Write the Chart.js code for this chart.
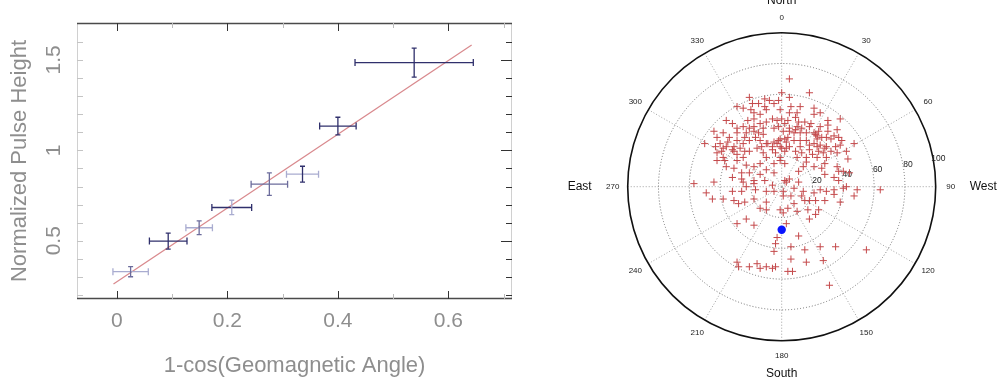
<!DOCTYPE html>
<html>
<head>
<meta charset="utf-8">
<script src="https://cdn.jsdelivr.net/npm/chart.js@4.4.1/dist/chart.umd.min.js"></script>
<style>
html, body { margin: 0; padding: 0; background: #fff; }
body { width: 998px; height: 383px; position: relative; overflow: hidden; }
#pulse { position: absolute; left: 0; top: 0; }
#sky { position: absolute; left: 556px; top: 0; }
</style>
</head>
<body>
<canvas id="pulse" width="540" height="383"></canvas>
<canvas id="sky" width="442" height="383"></canvas>
<script>
// ---- left panel: pulse height vs 1-cos(geomagnetic angle)
const geoX      = [0.025, 0.093, 0.149, 0.208, 0.276, 0.336, 0.400, 0.538];
const geoXErr   = [0.032, 0.034, 0.024, 0.036, 0.033, 0.029, 0.033, 0.107];
const pulseY    = [0.329, 0.498, 0.572, 0.684, 0.813, 0.868, 1.134, 1.485];
const pulseYErr = [0.028, 0.044, 0.038, 0.040, 0.062, 0.044, 0.049, 0.080];
const fitSlope = 2.04;
const fitIntercept = 0.273;
const fitX = [-0.006, 0.642];
const xTicks = [0, 0.2, 0.4, 0.6];
const yTicks = [0.5, 1, 1.5];

// ---- right panel: sky map (zenith angle projected toward West / North, degrees)
const westComp = [
  5,0,18,5,-21,-11,-2,-8,-29,-20,-15,-5,6,12,21,5,25,-18,-14,-10,
  -1,0,-6,4,9,15,19,30,38,30,36,25,-22,-25,-29,-32,-36,-44,-38,-42,
  -34,-29,-23,-18,-12,-5,-2,1,5,10,13,18,22,24,29,32,37,47,38,42,
  43,36,29,25,21,16,12,8,3,-1,-5,-10,-14,-17,-21,-25,-29,-35,-40,-50,
  -43,-42,-38,-32,-29,-37,-25,-21,-16,-12,-6,-1,3,9,12,18,23,29,36,37,
  40,34,28,26,21,16,11,11,5,3,-1,-5,-10,-14,-18,-23,-26,-32,-31,-36,
  -42,-25,-18,-14,-10,-5,-32,-26,-23,-17,-10,-6,1,8,14,21,25,29,34,40,
  42,49,47,38,34,28,22,18,13,6,1,-1,1,4,10,18,22,24,17,8,
  -10,-14,-18,-31,-38,-45,-49,-57,-44,-5,3,-10,-18,-29,-23,-3,11,6,-4,15,
  25,35,55,-5,6,16,27,-29,-28,-21,-16,-14,-10,-6,-4,4,7,31,64,2,
  -9,-6,-3,-2,0,2,4,5,8,9,12,16,21,23,23,26,34,30,-12,-13,
  -15,-18,-21,-24,-27,-31,-36,-39,-38,-29,-31,-24,-4,-1,2,10,13,16,20,24,
  27,32,35,39,5,2,-3,-10,-14,-18,-11,-19,-25,10,21,11,18,23,28,2,
  14,28,37,44,15,-26,-28,-24,-18,-21,-11
];
const northComp = [
  70,61,61,58,58,57,56,56,52,50,54,54,52,52,51,48,48,44,47,50,
  50,44,44,43,45,42,41,43,44,40,37,39,43,39,38,41,43,36,35,32,
  32,35,35,36,38,38,39,36,36,39,38,39,34,36,32,31,32,28,27,23,
  18,22,26,27,28,30,30,30,29,31,29,28,30,32,30,28,30,29,28,28,
  26,22,25,24,21,17,19,23,25,22,24,26,25,23,26,24,19,19,13,10,
  10,6,8,12,13,16,10,3,5,3,17,15,19,15,13,14,9,6,12,13,
  17,3,4,8,11,9,-3,-3,0,-2,-3,1,-3,-1,-3,-4,-2,-3,-2,-1,
  0,-2,-6,-10,-5,-9,-9,-9,-6,-6,-6,-15,-17,-14,-16,-21,-18,-15,-15,-11,
  -10,-14,-8,-9,-8,-8,-4,2,3,-3,-24,-15,-25,-24,-21,-33,-32,-39,-37,-41,
  -39,-39,-41,-42,-47,-49,-48,-49,-52,-52,-50,-53,-52,-53,-52,-55,-55,-64,-2,4,
  28,26,28,30,25,31,32,26,35,37,35,35,35,33,31,32,33,36,34,26,
  35,39,38,32,25,26,26,23,19,17,23,23,22,19,23,19,22,19,21,23,
  22,23,26,30,38,41,43,42,41,48,52,54,51,48,47,42,27,26,25,15,
  13,15,4,9,-9,5,-11,-10,2,9,4
];
const markerWest = [0];
const markerNorth = [-28];
const azTicks = [0, 30, 60, 90, 120, 150, 180, 210, 240, 270, 300, 330];
const ringTicks = [20, 40, 60, 80, 100];
const compass = ['North', 'West', 'South', 'East'];

const FONT = "'Liberation Sans', Arial, sans-serif";
const GREY = '#8e8e8e';

// bar shades (the source figure has lighter and darker bars)
const DARK = '#30306c', MID = '#6c6c9c', LIGHT = '#a9acd0';
const xBarColor = [LIGHT, DARK, LIGHT, DARK, MID, LIGHT, DARK, DARK];
const yBarColor = [MID, DARK, MID, LIGHT, MID, DARK, DARK, DARK];

// frame with inward ticks on all four sides
const frameTicks = {
  id: 'frameTicks',
  beforeDatasetsDraw(chart) {
    const {ctx, chartArea: a, scales: {x, y}} = chart;
    ctx.save();
    ctx.lineWidth = 1;
    ctx.strokeStyle = '#d0d0d0';
    ctx.beginPath();
    ctx.moveTo(a.left + 0.5, a.top); ctx.lineTo(a.left + 0.5, a.bottom);
    ctx.moveTo(a.right - 0.5, a.top); ctx.lineTo(a.right - 0.5, a.bottom);
    ctx.stroke();
    ctx.strokeStyle = '#4a4a4a';
    ctx.lineWidth = 1.3;
    ctx.beginPath();
    ctx.moveTo(a.left, a.top + 0.5); ctx.lineTo(a.right, a.top + 0.5);
    ctx.moveTo(a.left, a.bottom - 0.5); ctx.lineTo(a.right, a.bottom - 0.5);
    ctx.stroke();
    ctx.lineWidth = 1;
    for (let i = 0; i <= 7; i++) {
      const v = i / 10, px = Math.round(x.getPixelForValue(v)) + 0.5;
      const major = i % 2 === 0;
      ctx.strokeStyle = major ? '#333' : '#bbb';
      const len = major ? 8 : 5;
      ctx.beginPath();
      ctx.moveTo(px, a.bottom); ctx.lineTo(px, a.bottom - len);
      ctx.moveTo(px, a.top); ctx.lineTo(px, a.top + len);
      ctx.stroke();
    }
    for (let i = 2; i <= 16; i++) {
      const v = i / 10, py = Math.round(y.getPixelForValue(v)) + 0.5;
      const major = i % 5 === 0;
      ctx.strokeStyle = '#c4c4c4';
      ctx.beginPath();
      ctx.moveTo(a.left, py); ctx.lineTo(a.left + 6, py);
      ctx.stroke();
      ctx.strokeStyle = '#333';
      ctx.beginPath();
      ctx.moveTo(a.right, py); ctx.lineTo(a.right - (major ? 11 : 6), py);
      ctx.stroke();
    }
    ctx.restore();
  }
};

// error bars with end caps, positioned through the scales
const errorBars = {
  id: 'errorBars',
  afterDatasetsDraw(chart) {
    const {ctx, scales: {x, y}} = chart;
    ctx.save();
    ctx.lineWidth = 1.3;
    geoX.forEach((gx, i) => {
      const px = x.getPixelForValue(gx), py = y.getPixelForValue(pulseY[i]);
      const x0 = x.getPixelForValue(gx - geoXErr[i]), x1 = x.getPixelForValue(gx + geoXErr[i]);
      const y0 = y.getPixelForValue(pulseY[i] - pulseYErr[i]), y1 = y.getPixelForValue(pulseY[i] + pulseYErr[i]);
      ctx.strokeStyle = xBarColor[i];
      ctx.beginPath();
      ctx.moveTo(x0, py); ctx.lineTo(x1, py);
      ctx.moveTo(x0, py - 3.5); ctx.lineTo(x0, py + 3.5);
      ctx.moveTo(x1, py - 3.5); ctx.lineTo(x1, py + 3.5);
      ctx.stroke();
      ctx.strokeStyle = yBarColor[i];
      ctx.beginPath();
      ctx.moveTo(px, y0); ctx.lineTo(px, y1);
      ctx.moveTo(px - 2.5, y0); ctx.lineTo(px + 2.5, y0);
      ctx.moveTo(px - 2.5, y1); ctx.lineTo(px + 2.5, y1);
      ctx.stroke();
    });
    ctx.restore();
  }
};

new Chart(document.getElementById('pulse'), {
  type: 'scatter',
  data: {
    datasets: [{
      type: 'line',
      data: fitX.map(v => ({x: v, y: fitIntercept + fitSlope * v})),
      borderColor: '#d98a8e',
      borderWidth: 1.3,
      pointRadius: 0,
      fill: false
    }, {
      data: geoX.map((v, i) => ({x: v, y: pulseY[i]})),
      pointRadius: 0
    }]
  },
  options: {
    responsive: false,
    animation: false,
    layout: {padding: {left: 0, right: 28, top: 23, bottom: 0}},
    plugins: {legend: {display: false}, tooltip: {enabled: false}},
    scales: {
      x: {
        type: 'linear', min: -0.072, max: 0.715,
        grid: {display: false, drawTicks: false},
        border: {display: false},
        afterBuildTicks: s => { s.ticks = xTicks.map(v => ({value: v})); },
        afterFit: s => { s.height = 84; },
        ticks: {color: GREY, font: {family: FONT, size: 21}, padding: 10, callback: v => String(v)},
        title: {display: true, text: '1-cos(Geomagnetic Angle)', color: GREY,
                font: {family: FONT, size: 22}, padding: {top: 4, bottom: 4}}
      },
      y: {
        type: 'linear', min: 0.178, max: 1.704,
        grid: {display: false, drawTicks: false},
        border: {display: false},
        afterBuildTicks: s => { s.ticks = yTicks.map(v => ({value: v})); },
        afterFit: s => { s.width = 77; },
        ticks: {color: GREY, font: {family: FONT, size: 21}, padding: 8, minRotation: 90, maxRotation: 90,
                crossAlign: 'center', callback: v => String(v)},
        title: {display: true, text: 'Normalized Pulse Height', color: GREY,
                font: {family: FONT, size: 22}, padding: {top: 7, bottom: 7}}
      }
    }
  },
  plugins: [frameTicks, errorBars]
});

// polar grid, angle / zenith labels and compass names
const polarGrid = {
  id: 'polarGrid',
  beforeDatasetsDraw(chart) {
    const {ctx, scales: {x, y}} = chart;
    const cx = x.getPixelForValue(0), cy = y.getPixelForValue(0);
    const rad = v => x.getPixelForValue(v) - cx;
    const R = rad(ringTicks[ringTicks.length - 1]);
    const at = (deg, r) => {
      const t = deg * Math.PI / 180;
      return [cx + r * Math.sin(t), cy - r * Math.cos(t)];
    };
    ctx.save();
    ctx.lineWidth = 1;
    ctx.setLineDash([1, 2]);
    ctx.strokeStyle = '#a0a0a0';
    azTicks.forEach(a => {
      const [ex, ey] = at(a, R);
      ctx.beginPath(); ctx.moveTo(cx, cy); ctx.lineTo(ex, ey); ctx.stroke();
    });
    ctx.strokeStyle = '#6e6e6e';
    ringTicks.slice(0, -1).forEach(r => {
      ctx.beginPath(); ctx.arc(cx, cy, rad(r), 0, 2 * Math.PI); ctx.stroke();
    });
    ctx.setLineDash([]);
    ctx.strokeStyle = '#111';
    ctx.lineWidth = 1.6;
    ctx.beginPath(); ctx.arc(cx, cy, R, 0, 2 * Math.PI); ctx.stroke();

    ctx.fillStyle = '#222';
    ctx.textAlign = 'center';
    ctx.textBaseline = 'middle';
    ctx.font = "8px " + FONT;
    azTicks.forEach(a => {
      const [lx, ly] = at(a, R + 15);
      ctx.fillText(String(a), lx, ly);
    });
    ctx.font = "8.5px " + FONT;
    ringTicks.forEach(r => {
      const [lx, ly] = at(80, rad(r) + 5);
      ctx.fillText(String(r), lx, ly);
    });
    ctx.fillStyle = '#111';
    ctx.font = "12px " + FONT;
    ctx.fillText(compass[0], cx, cy - R - 32);
    ctx.fillText(compass[2], cx, cy + R + 33);
    ctx.textAlign = 'left';
    ctx.fillText(compass[1], cx + R + 34, cy);
    ctx.textAlign = 'right';
    ctx.fillText(compass[3], cx - R - 36, cy);
    ctx.restore();
  }
};

new Chart(document.getElementById('sky'), {
  type: 'scatter',
  data: {
    datasets: [{
      data: markerWest.map((w, i) => ({x: w, y: markerNorth[i]})),
      pointRadius: 4.2,
      backgroundColor: '#0a14ff',
      borderColor: '#0a14ff',
      borderWidth: 0
    }, {
      data: westComp.map((w, i) => ({x: w, y: northComp[i]})),
      pointStyle: 'cross',
      pointRadius: 3.6,
      borderColor: '#c4494b',
      backgroundColor: '#c4494b',
      borderWidth: 1
    }]
  },
  options: {
    responsive: false,
    animation: false,
    layout: {padding: {left: 71.7, right: 62.3, top: 32.7, bottom: 42.3}},
    plugins: {legend: {display: false}, tooltip: {enabled: false}},
    scales: {
      x: {type: 'linear', min: -100, max: 100, display: false},
      y: {type: 'linear', min: -100, max: 100, display: false}
    }
  },
  plugins: [polarGrid]
});
</script>
</body>
</html>
